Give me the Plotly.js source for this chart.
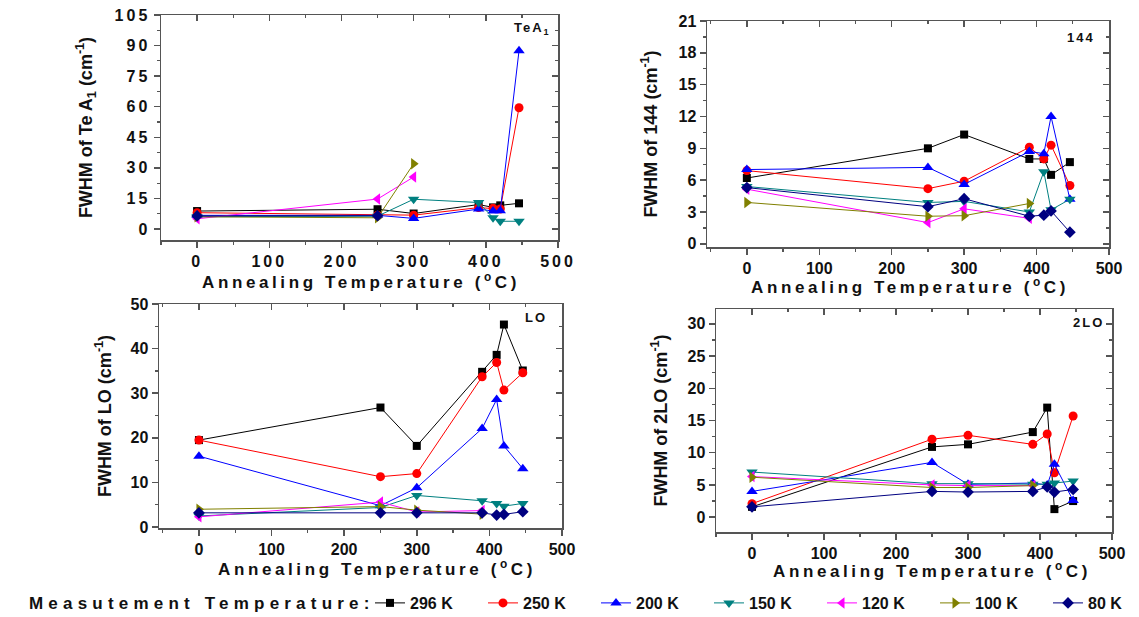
<!DOCTYPE html>
<html>
<head>
<meta charset="utf-8">
<script src="https://cdn.plot.ly/plotly-3.0.1.min.js"></script>
<style>
  html, body { margin: 0; padding: 0; background: #fff; overflow: hidden; }
  #chart { width: 1139px; height: 617px; }
  .xtick text, .ytick text { letter-spacing: 3px; }
  text.xtitle, text.x2title, text.x3title, text.x4title { letter-spacing: 3.6px; }
  .annotation-text { letter-spacing: 2px; }
  .annotation[data-index="4"] .annotation-text { letter-spacing: 5.2px; }
</style>
</head>
<body>
<div id="chart"></div>
<script>
// ---------------- DATA ----------------
const seriesNames = ['296 K', '250 K', '200 K', '150 K', '120 K', '100 K', '80 K'];
const annealT = [0, 250, 300, 390, 410, 420, 446];
const annealShort = [0, 250, 300, 390];
const annealTwo = [0, 250];
const annealThree = [0, 250, 300];

// FWHM of Te A1
const teA1_296 = [8.8, 9.7, 7.6, 12.0, 10.6, 11.6, 12.6];
const teA1_250 = [8.0, 6.8, 6.8, 10.5, 10.2, 9.8, 59.5];
const teA1_200 = [6.7, 6.7, 5.2, 9.8, 8.8, 8.9, 87.5];
const teA1_150 = [6.0, 6.3, 14.6, 13.0, 5.5, 3.8, 3.8];
const teA1_120 = [5.0, 14.7, 25.5];
const teA1_100 = [6.0, 5.5, 32.0];
const teA1_80 = [6.4, 6.5];

// FWHM of 144
const m144_296 = [6.2, 9.0, 10.3, 8.0, 8.0, 6.5, 7.7];
const m144_250 = [6.9, 5.2, 5.9, 9.1, 8.0, 9.3, 5.5];
const m144_200 = [7.0, 7.2, 5.6, 8.7, 8.5, 12.0, 4.2];
const m144_150 = [5.4, 3.9, 4.0, 3.0, 6.8, 3.2, 4.2];
const m144_120 = [5.15, 2.0, 3.3, 2.4];
const m144_100 = [3.9, 2.6, 2.65, 3.8];
const m144_80 = [5.3, 3.5, 4.25, 2.6, 2.7, 3.1, 1.1];

// FWHM of LO
const lo_296 = [19.5, 26.8, 18.2, 34.8, 38.6, 45.4, 35.1];
const lo_250 = [19.5, 11.3, 12.0, 33.7, 36.9, 30.7, 34.6];
const lo_200 = [15.9, 4.8, 8.8, 22.1, 28.6, 18.2, 13.1];
const lo_150 = [2.5, 4.4, 7.1, 5.9, 5.3, 4.7, 5.3];
const lo_120 = [2.3, 5.6, 3.4, 3.7];
const lo_100 = [4.0, 4.6, 3.8, 2.9];
const lo_80 = [3.2, 3.2, 3.2, 3.2, 2.7, 2.85, 3.45];

// FWHM of 2LO
const lo2_296 = [1.6, 10.9, 11.3, 13.2, 17.0, 1.25, 2.5];
const lo2_250 = [2.1, 12.1, 12.7, 11.3, 12.9, 6.9, 15.7];
const lo2_200 = [4.0, 8.5, 5.1, 5.3, 5.0, 8.2, 2.6];
const lo2_150 = [7.0, 5.2, 5.2, 5.1, 5.1, 5.3, 5.6];
const lo2_120 = [6.3, 5.0, 4.9, 4.9];
const lo2_100 = [6.2, 4.6, 4.6, 4.9];
const lo2_80 = [1.6, 4.0, 3.9, 4.0, 4.7, 3.9, 4.3];

const panelLabels = ['TeA<sub>1</sub>', '144', 'LO', '2LO'];
const yTitles = ['FWHM of Te A<sub>1</sub> (cm<sup>-1</sup>)', 'FWHM of 144 (cm<sup>-1</sup>)',
                 'FWHM of LO (cm<sup>-1</sup>)', 'FWHM of 2LO (cm<sup>-1</sup>)'];
const xTitle = 'Annealing Temperature (<sup>o</sup>C)';
const legendLabel = 'Measutement Temperature:';

// ---------------- STYLE ----------------
const colors = ['#000000', '#ff0000', '#0000ff', '#008080', '#ff00ff', '#808000', '#000080'];
const symbols = ['square', 'circle', 'triangle-up', 'triangle-down', 'triangle-left', 'triangle-right', 'diamond'];
const msizes = [8, 9, 10, 10, 10, 10, 9];

const panels = [
  { xs: [annealT, annealT, annealT, annealT, annealThree, annealThree, annealTwo],
    ys: [teA1_296, teA1_250, teA1_200, teA1_150, teA1_120, teA1_100, teA1_80] },
  { xs: [annealT, annealT, annealT, annealT, annealShort, annealShort, annealT],
    ys: [m144_296, m144_250, m144_200, m144_150, m144_120, m144_100, m144_80] },
  { xs: [annealT, annealT, annealT, annealT, annealShort, annealShort, annealT],
    ys: [lo_296, lo_250, lo_200, lo_150, lo_120, lo_100, lo_80] },
  { xs: [annealT, annealT, annealT, annealT, annealShort, annealShort, annealT],
    ys: [lo2_296, lo2_250, lo2_200, lo2_150, lo2_120, lo2_100, lo2_80] }
];

const W = 1139, H = 617;
const px = v => v / W;
const py = v => 1 - v / H;

// plot boxes in pixels [left, right, top, bottom]
const boxes = [[161, 558, 15, 240], [707, 1109, 21, 247], [159, 562, 304, 528], [716, 1112, 309, 532]];
const xRanges = [[-50, 500], [-55, 500], [-55, 500], [-50, 500]];
const yRanges = [[-5.4, 105], [-0.3, 21], [-0.2, 50], [-2.3, 32.3]];
const yDticks = [15, 3, 10, 5];
const yStandoffs = [17, 16, 14, 15];
const xStandoffs = [5, 3, 8, 4];
const xTitleCenters = [[361, 279], [910, 282], [377, 568], [932, 567]];
const labelPos = [[553, 29], [1097, 37], [549, 317], [1106, 322]];

const tickFont = { family: 'Liberation Sans, Arial, sans-serif', size: 16, color: '#111', weight: 700 };
const axColor = '#555';

const traces = [];
panels.forEach((p, pi) => {
  const xa = pi === 0 ? 'x' : 'x' + (pi + 1);
  const ya = pi === 0 ? 'y' : 'y' + (pi + 1);
  p.ys.forEach((yy, si) => {
    traces.push({
      type: 'scatter', mode: 'lines+markers',
      x: p.xs[si], y: yy, xaxis: xa, yaxis: ya,
      name: seriesNames[si], legendgroup: seriesNames[si], showlegend: pi === 0,
      line: { color: colors[si], width: 1 },
      marker: { symbol: symbols[si], size: msizes[si], color: colors[si] },
      cliponaxis: false
    });
  });
});

const layout = {
  width: W, height: H,
  margin: { l: 0, r: 0, t: 0, b: 0, autoexpand: false },
  paper_bgcolor: '#fff', plot_bgcolor: '#fff',
  showlegend: true,
  legend: {
    orientation: 'h', x: px(370), xanchor: 'left', y: py(603), yanchor: 'middle',
    font: { family: 'Liberation Sans, Arial, sans-serif', size: 16, weight: 700, color: '#111' },
    itemwidth: 30, entrywidth: 68, entrywidthmode: 'pixels', traceorder: 'normal', bgcolor: 'rgba(0,0,0,0)'
  },
  annotations: [],
  font: { family: 'Liberation Sans, Arial, sans-serif' }
};

boxes.forEach((b, i) => {
  const n = i + 1;
  const xk = i === 0 ? 'xaxis' : 'xaxis' + n;
  const yk = i === 0 ? 'yaxis' : 'yaxis' + n;
  const xid = i === 0 ? 'x' : 'x' + n;
  const yid = i === 0 ? 'y' : 'y' + n;
  const xd = [px(b[0]), px(b[1])];
  const yd = [py(b[3]), py(b[2])];
  layout[xk] = {
    domain: xd, anchor: yid, range: xRanges[i], autorange: false,
    tick0: 0, dtick: 100, ticks: 'outside', ticklen: 6, tickwidth: 1.5, tickcolor: axColor,
    minor: { dtick: 50, ticks: 'outside', ticklen: 3, tickwidth: 1.2, tickcolor: axColor },
    showline: true, linecolor: axColor, linewidth: 1.5, mirror: true,
    showgrid: false, zeroline: false, tickfont: tickFont,
    title: { text: xTitle, standoff: xStandoffs[i], font: { family: 'Liberation Sans, Arial, sans-serif', size: 17, weight: 700, color: '#111' } }
  };
  layout[yk] = {
    domain: yd, anchor: xid, range: yRanges[i], autorange: false,
    tick0: 0, dtick: yDticks[i], ticks: 'outside', ticklen: 6, tickwidth: 1.5, tickcolor: axColor,
    minor: { dtick: yDticks[i] / 2, ticks: 'outside', ticklen: 3, tickwidth: 1.2, tickcolor: axColor },
    showline: true, linecolor: axColor, linewidth: 1.5, mirror: true,
    showgrid: false, zeroline: false, tickfont: tickFont,
    title: { text: yTitles[i], standoff: yStandoffs[i], font: { family: 'Liberation Sans, Arial, sans-serif', size: 18, weight: 700, color: '#111' } }
  };
  // mirrored frame with inward ticks (top / right)
  const txid = 'x' + (n + 4), tyid = 'y' + (n + 4);
  layout['xaxis' + (n + 4)] = {
    overlaying: xid, side: 'top', anchor: yid, range: xRanges[i], autorange: false,
    tick0: 0, dtick: 100, ticks: 'inside', ticklen: 6, tickwidth: 1.5, tickcolor: axColor,
    minor: { dtick: 50, ticks: 'inside', ticklen: 3, tickwidth: 1.2, tickcolor: axColor },
    showline: false, showticklabels: false, automargin: false,
    showgrid: false, zeroline: false
  };
  layout['yaxis' + (n + 4)] = {
    overlaying: yid, side: 'right', anchor: xid, range: yRanges[i], autorange: false,
    tick0: 0, dtick: yDticks[i], ticks: 'inside', ticklen: 6, tickwidth: 1.5, tickcolor: axColor,
    minor: { dtick: yDticks[i] / 2, ticks: 'inside', ticklen: 3, tickwidth: 1.2, tickcolor: axColor },
    showline: false, showticklabels: false, automargin: false,
    showgrid: false, zeroline: false
  };
  // helper traces without any visible mark so the frame axes get drawn
  traces.push({ type: 'scatter', mode: 'markers', x: [null], y: [null], xaxis: txid, yaxis: yid,
                showlegend: false, hoverinfo: 'skip', marker: { opacity: 0 } });
  traces.push({ type: 'scatter', mode: 'markers', x: [null], y: [null], xaxis: xid, yaxis: tyid,
                showlegend: false, hoverinfo: 'skip', marker: { opacity: 0 } });

  layout.annotations.push({
    text: panelLabels[i], xref: 'paper', yref: 'paper',
    x: px(labelPos[i][0]), y: py(labelPos[i][1]), xanchor: 'right', yanchor: 'middle',
    showarrow: false, font: { family: 'Liberation Sans, Arial, sans-serif', size: 13, weight: 700, color: '#111' }
  });
});

layout.annotations.push({
  text: legendLabel, xref: 'paper', yref: 'paper', align: 'left',
  x: px(27), y: py(603), xanchor: 'left', yanchor: 'middle', showarrow: false,
  font: { family: 'Liberation Sans, Arial, sans-serif', size: 17, weight: 700, color: '#111' }
});

Plotly.newPlot('chart', traces, layout, { displayModeBar: false, staticPlot: true }).then(gd => {
  // nudge the letter-spaced x titles to the reference centres
  ['xtitle', 'x2title', 'x3title', 'x4title'].forEach((cls, i) => {
    const el = gd.querySelector('text.' + cls);
    if (!el) return;
    const bb = el.getBBox();
    const dx = xTitleCenters[i][0] - (bb.x + bb.width / 2);
    const dy = xTitleCenters[i][1] - (bb.y + bb.height / 2);
    const prev = el.getAttribute('transform') || '';
    el.setAttribute('transform', ('translate(' + dx + ',' + dy + ') ' + prev).trim());
  });
});
</script>
</body>
</html>
